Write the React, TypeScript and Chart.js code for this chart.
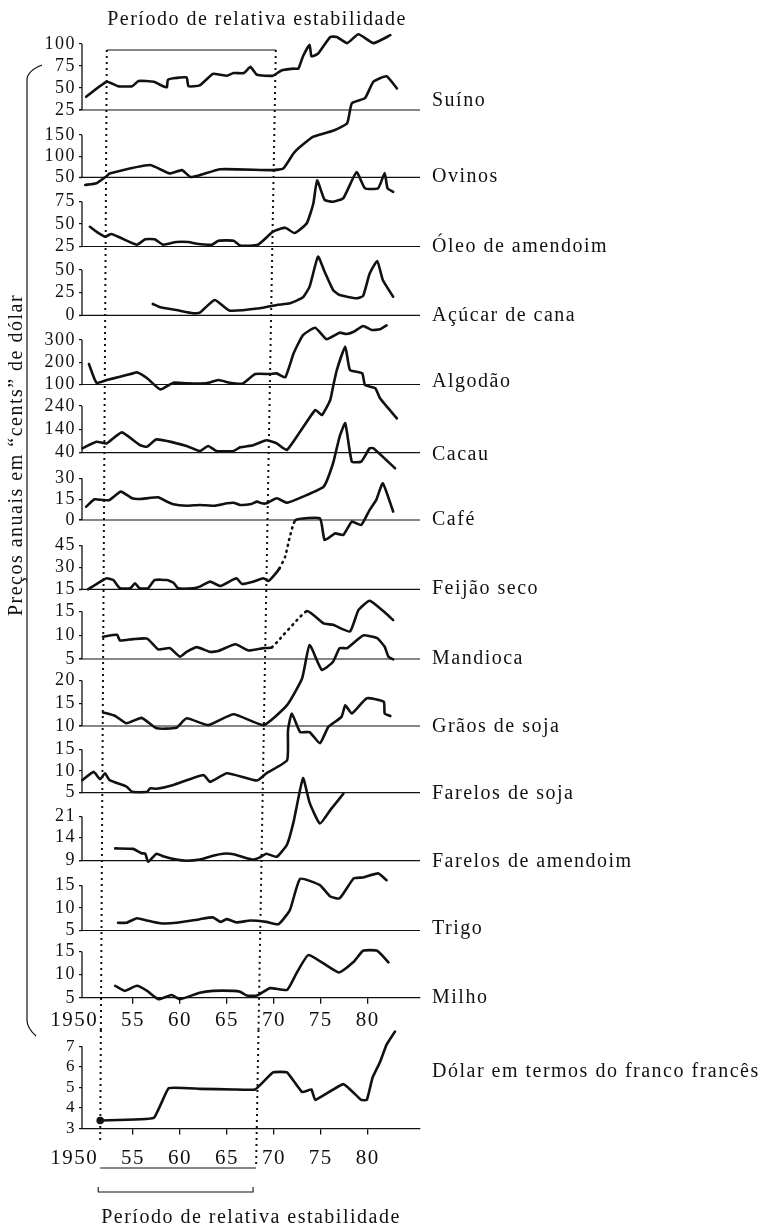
import React, { useEffect, useRef } from 'react';
import { Chart, registerables } from 'chart.js';

Chart.register(...registerables);

const FONT = "'Liberation Serif', 'Times New Roman', serif";
const INK = '#111';

// ---------------- data ----------------
const suinoYears = [1950.0, 1952.2, 1953.4, 1954.9, 1955.6, 1957.2, 1958.2, 1958.6, 1958.7, 1959.3, 1960.7, 1960.9, 1962.1, 1963.5, 1964.3, 1965.0, 1965.7, 1966.8, 1967.5, 1968.2, 1969.9, 1970.8, 1972.1, 1972.6, 1973.1, 1973.8, 1974.0, 1974.7, 1976.0, 1976.7, 1977.8, 1979.0, 1980.6, 1982.4];
const suinoValues = [40, 57, 52, 52, 58, 57, 52, 51, 59, 61, 62, 52, 53, 66, 65, 64, 67, 67, 74, 65, 64, 70, 72, 72, 86, 99, 86, 89, 108, 108, 101, 111, 101, 110];
const suinoTicks = [25, 50, 75, 100];

const ovinosYears = [1949.9, 1951.1, 1952.2, 1952.5, 1956.8, 1958.9, 1960.2, 1961.1, 1962.1, 1964.3, 1969.9, 1971.0, 1972.1, 1972.8, 1974.2, 1976.3, 1977.8, 1978.3, 1979.7, 1980.6, 1982.0, 1983.1];
const ovinosValues = [32, 36, 53, 59, 79, 59, 67, 51, 55, 69, 67, 71, 107, 122, 146, 160, 178, 225, 237, 276, 289, 260];
const ovinosTicks = [50, 100, 150];

const oleoYears = [1950.4, 1951.1, 1952.0, 1952.7, 1953.6, 1955.4, 1956.3, 1957.3, 1958.2, 1959.6, 1960.9, 1961.8, 1963.4, 1964.1, 1965.7, 1966.4, 1968.3, 1969.9, 1971.2, 1972.2, 1973.5, 1974.2, 1974.6, 1975.4, 1976.3, 1977.4, 1978.8, 1979.7, 1981.1, 1981.8, 1982.1, 1982.7];
const oleoValues = [47, 41.5, 36, 39, 35, 27, 33, 33, 27, 30, 30, 28, 27, 31.5, 31.5, 26, 27, 41.5, 46, 40, 51, 73, 99, 77, 75, 79, 108, 90, 90, 107, 90, 86];
const oleoTicks = [25, 50, 75];

const acucarYears = [1957.1, 1957.9, 1959.6, 1961.4, 1962.1, 1963.7, 1965.3, 1968.5, 1970.3, 1971.7, 1973.1, 1973.8, 1974.7, 1975.4, 1976.3, 1977.0, 1978.8, 1979.5, 1980.2, 1981.0, 1981.6, 1982.7];
const acucarValues = [12.5, 8.8, 5.8, 2.2, 2.9, 16.9, 5.1, 7.7, 11.4, 13.2, 19.9, 31.6, 64.7, 48, 28, 22.4, 18.8, 21.3, 46, 60, 39, 20.5];
const acucarTicks = [0, 25, 50];

const algodaoYears = [1950.3, 1951.1, 1952.2, 1953.6, 1955.0, 1955.4, 1956.5, 1957.9, 1959.3, 1960.7, 1962.8, 1964.1, 1965.3, 1966.7, 1968.0, 1969.6, 1970.3, 1971.2, 1972.1, 1973.1, 1974.4, 1975.6, 1977.0, 1977.7, 1978.5, 1979.5, 1980.4, 1981.3, 1982.0];
const algodaoValues = [192, 108, 120, 135, 150, 155, 128, 78, 108, 105, 105, 120, 108, 105, 147, 147, 150, 132, 240, 322, 355, 304, 333, 327, 337, 363, 345, 348, 366];
const algodaoTicks = [100, 200, 300];

const cacauYears = [1949.6, 1951.1, 1952.2, 1953.8, 1955.7, 1956.5, 1957.5, 1960.7, 1962.1, 1963.0, 1963.9, 1965.7, 1966.4, 1967.8, 1969.2, 1970.3, 1971.4, 1974.4, 1975.1, 1976.0, 1976.3, 1976.7, 1977.6, 1978.1, 1979.4, 1979.7, 1980.8, 1981.3, 1983.1];
const cacauValues = [59, 87, 80, 127, 73, 66, 97, 69, 47, 69, 47, 47, 63, 72, 93, 80, 52, 223, 201, 266, 323, 394, 494, 394, 380, 330, 316, 273, 187];
const cacauTicks = [40, 140, 240];

const cafeYears = [1950.0, 1950.9, 1951.8, 1952.5, 1953.7, 1954.9, 1955.7, 1957.7, 1958.4, 1959.3, 1960.7, 1962.1, 1963.7, 1965.0, 1965.7, 1966.4, 1967.6, 1968.2, 1968.7, 1969.2, 1970.3, 1971.4, 1973.1, 1975.3, 1976.3, 1977.0, 1977.6, 1978.3, 1979.3, 1980.2, 1980.6, 1982.9];
const cafeValues = [9.6, 14.9, 14.4, 14.4, 20.4, 15.6, 15.1, 16.3, 13.9, 11.3, 10.3, 10.8, 10.3, 12, 12.4, 10.8, 11.5, 13.2, 12, 12, 15.6, 12.4, 16.8, 24, 40.8, 60, 69.6, 42, 42, 51.6, 51.6, 37.2];
const cafeTicks = [0, 15, 30];

const feijaoYears = [1950.2, 1951.8, 1952.2, 1952.9, 1953.6, 1954.7, 1955.2, 1955.7, 1956.6, 1957.3, 1958.6, 1959.3, 1959.8, 1961.4, 1962.1, 1963.2, 1964.3, 1966.0, 1966.6, 1967.8, 1968.9, 1969.4, 1969.9, 1970.6, 1971.2, 1971.7, 1972.3, 1974.9, 1975.4, 1976.5, 1977.4, 1978.3, 1979.3, 1980.2, 1980.9, 1981.6, 1982.7];
const feijaoValues = [15, 21.3, 22.5, 21.3, 15.7, 15.7, 19, 15.7, 15.7, 21.3, 21.3, 19.5, 15.7, 15.7, 16.8, 20.2, 17.2, 22.5, 18.6, 20.2, 22.5, 20.6, 23.6, 29.3, 37.2, 50.8, 62, 63.2, 48.5, 53, 52, 61, 58.7, 69, 75.8, 87, 67.8];
const feijaoTicks = [15, 30, 45];
const feijaoDotted = [23, 26];

const mandiocaYears = [1951.8, 1953.3, 1953.6, 1955.0, 1956.5, 1957.7, 1958.9, 1960.0, 1960.7, 1961.8, 1963.2, 1964.1, 1965.9, 1967.3, 1968.9, 1969.8, 1973.5, 1975.3, 1976.3, 1978.1, 1979.0, 1980.2, 1982.0, 1982.7];
const mandiocaValues = [9.7, 10.1, 8.9, 9.2, 9.3, 7, 7.3, 5.5, 6.5, 7.5, 6.5, 6.7, 8.1, 6.8, 7.3, 7.5, 15.1, 12.5, 12.2, 10.8, 15.3, 17.3, 14.5, 13.2];
const mandiocaTicks = [5, 10, 15];
const mandiocaDotted = [15, 16];

const graosYears = [1951.8, 1953.1, 1954.3, 1955.9, 1957.5, 1959.6, 1960.7, 1963.0, 1965.7, 1968.9, 1971.4, 1973.0, 1973.8, 1975.1, 1976.3, 1977.0, 1977.8, 1979.5, 1981.0, 1981.8, 1982.2, 1982.7];
const graosValues = [13, 12.2, 10.6, 11.8, 9.5, 9.6, 11.7, 10.2, 12.6, 10.2, 14.6, 20.5, 27.9, 22.4, 24.2, 27.2, 27.2, 30, 29.4, 27.5, 25.3, 24.7];
const graosTicks = [10, 15, 20];

const farSojaYears = [1949.6, 1950.8, 1951.5, 1952.0, 1952.5, 1954.3, 1954.9, 1956.5, 1956.8, 1957.5, 1959.3, 1962.5, 1963.2, 1965.0, 1968.2, 1969.2, 1971.4, 1971.5, 1971.9, 1972.8, 1973.8, 1974.9, 1975.8, 1977.2, 1977.6, 1978.3, 1979.9, 1981.7, 1981.8, 1982.4];
const farSojaValues = [7.9, 9.8, 8.1, 9.5, 7.9, 6.4, 5.2, 5.2, 6, 5.9, 6.8, 9.1, 7.5, 9.5, 7.8, 9.5, 12.5, 19.4, 23.3, 19, 19, 16.4, 20.2, 22.5, 25.2, 23.3, 26.8, 26, 23.3, 22.7];
const farSojaTicks = [5, 10, 15];

const farAmendYears = [1953.1, 1955.0, 1955.9, 1956.3, 1956.6, 1957.5, 1958.2, 1959.6, 1960.7, 1962.1, 1963.5, 1964.6, 1965.7, 1966.8, 1967.8, 1968.5, 1969.2, 1970.3, 1971.4, 1972.1, 1973.1, 1973.8, 1974.9, 1976.1, 1977.4];
const farAmendValues = [11.4, 11.3, 10.4, 10.3, 8.8, 10.3, 9.8, 9.2, 9, 9.2, 9.9, 10.3, 10.2, 9.6, 9.2, 9.6, 10.3, 9.7, 12.3, 19.1, 44, 27.5, 18.4, 24.4, 32.6];
const farAmendTicks = [9, 14, 21];

const trigoYears = [1953.4, 1954.3, 1955.4, 1956.5, 1957.9, 1959.6, 1962.1, 1963.5, 1964.3, 1965.0, 1966.0, 1967.5, 1969.2, 1970.5, 1971.7, 1972.8, 1974.9, 1976.0, 1977.0, 1978.5, 1979.5, 1981.1, 1982.0];
const trigoValues = [6.7, 6.7, 7.7, 7.2, 6.6, 6.7, 7.5, 7.9, 6.9, 7.5, 6.8, 7.2, 6.9, 6.4, 9.5, 16.4, 15, 12.5, 12.1, 16.5, 16.7, 17.6, 16.1];
const trigoTicks = [5, 10, 15];

const milhoYears = [1953.1, 1954.1, 1955.4, 1956.5, 1957.7, 1959.1, 1960.0, 1962.1, 1963.5, 1965.7, 1966.4, 1967.1, 1968.2, 1969.6, 1971.4, 1972.4, 1973.7, 1976.9, 1978.5, 1979.5, 1981.0, 1982.2];
const milhoValues = [7.6, 6.5, 7.6, 6.5, 4.7, 5.6, 4.7, 6.1, 6.5, 6.5, 6.3, 5.5, 5.5, 7.1, 6.7, 10.3, 14.3, 10.5, 12.8, 15.2, 15.2, 12.7];
const milhoTicks = [5, 10, 15];

const dolarYears = [1951.5, 1957.2, 1958.8, 1962.1, 1965.7, 1968.0, 1969.9, 1971.4, 1973.0, 1974.0, 1974.4, 1977.4, 1979.3, 1979.9, 1980.5, 1981.3, 1982.0, 1982.9];
const dolarValues = [3.39, 3.52, 4.96, 4.93, 4.9, 4.9, 5.73, 5.73, 4.77, 4.9, 4.39, 5.16, 4.39, 4.39, 5.47, 6.23, 7.08, 7.72];
const dolarTicks = [3, 4, 5, 6, 7];

const X_TICKS = [1950, 1955, 1960, 1965, 1970, 1975, 1980];

const TITLE = 'Período de relativa estabilidade';
const Y_TITLE = 'Preços anuais em “cents” de dólar';
const DOLAR_LABEL = 'Dólar em termos do franco francês';

// ---------------- layout (not data) ----------------
const X_MIN = 1949.56;
const X_MAX = 1985.56;
const STABLE_TOP = [1952.2, 1970.2];
const STABLE_BOTTOM = [1951.5, 1968.1];
const C2_TOP = 1022;
const LINE_W = 2.6;

const PANELS = [
  { name: 'Suíno', years: suinoYears, values: suinoValues, ticks: suinoTicks, min: 25, max: 115.9, band: 80, dy: -9 },
  { name: 'Ovinos', years: ovinosYears, values: ovinosValues, ticks: ovinosTicks, min: 50, max: 209.1, band: 67.3, dy: -1 },
  { name: 'Óleo de amendoim', years: oleoYears, values: oleoValues, ticks: oleoTicks, min: 25, max: 102.2, band: 69.2, dy: 0 },
  { name: 'Açúcar de cana', years: acucarYears, values: acucarValues, ticks: acucarTicks, min: 0, max: 75.9, band: 68.8, dy: 0 },
  { name: 'Algodão', years: algodaoYears, values: algodaoValues, ticks: algodaoTicks, min: 100, max: 411, band: 69.2, dy: -3 },
  { name: 'Cacau', years: cacauYears, values: cacauValues, ticks: cacauTicks, min: 40, max: 332, band: 68.2, dy: 2 },
  { name: 'Café', years: cafeYears, values: cafeValues, ticks: cafeTicks, min: 0, max: 48.4, band: 67.3, dy: 0 },
  { name: 'Feijão seco', years: feijaoYears, values: feijaoValues, ticks: feijaoTicks, min: 15, max: 62.1, band: 69.3, dy: -1, dotted: feijaoDotted },
  { name: 'Mandioca', years: mandiocaYears, values: mandiocaValues, ticks: mandiocaTicks, min: 5, max: 19.7, band: 69.7, dy: 0, dotted: mandiocaDotted },
  { name: 'Grãos de soja', years: graosYears, values: graosValues, ticks: graosTicks, min: 10, max: 24.8, band: 67, dy: 1 },
  { name: 'Farelos de soja', years: farSojaYears, values: farSojaValues, ticks: farSojaTicks, min: 5, max: 20.4, band: 66.7, dy: 1 },
  { name: 'Farelos de amendoim', years: farAmendYears, values: farAmendValues, ticks: farAmendTicks, min: 9, max: 33.3, band: 68, dy: 1, log: true },
  { name: 'Trigo', years: trigoYears, values: trigoValues, ticks: trigoTicks, min: 5, max: 20.4, band: 69.8, dy: -2 },
  { name: 'Milho', years: milhoYears, values: milhoValues, ticks: milhoTicks, min: 5, max: 19.6, band: 67.3, dy: 0 },
];

const xLabel = (v: number) => (v === 1950 ? '1950\u2007\u2007' : String(v - 1900));

function line(ctx: CanvasRenderingContext2D, x1: number, y1: number, x2: number, y2: number, w = 1.2) {
  ctx.beginPath();
  ctx.lineWidth = w;
  ctx.moveTo(x1, y1);
  ctx.lineTo(x2, y2);
  ctx.stroke();
}

function stableYear(idx: number, pageY: number) {
  const yTop = 50;
  const yBot = idx === 0 ? 1140 : 1168;
  const t = (pageY - yTop) / (yBot - yTop);
  return STABLE_TOP[idx] + t * (STABLE_BOTTOM[idx] - STABLE_TOP[idx]);
}

function drawDotted(ctx: CanvasRenderingContext2D, xs: any, fromPage: number, toPageArr: number[], offset: number) {
  ctx.save();
  ctx.setLineDash([2, 4]);
  ctx.lineWidth = 2;
  for (let i = 0; i < 2; i++) {
    const to = toPageArr[i];
    if (to <= fromPage) continue;
    ctx.beginPath();
    ctx.moveTo(xs.getPixelForValue(stableYear(i, fromPage)), fromPage - offset);
    ctx.lineTo(xs.getPixelForValue(stableYear(i, to)), to - offset);
    ctx.stroke();
  }
  ctx.restore();
}

const xAxis = (height: number, padding: number) => ({
  type: 'linear',
  position: 'bottom',
  min: X_MIN,
  max: X_MAX,
  afterBuildTicks: (s: any) => { s.ticks = X_TICKS.map((v) => ({ value: v })); },
  afterFit: (s: any) => { s.height = height; },
  ticks: { callback: (v: any) => xLabel(v), font: { family: FONT, size: 21 }, color: INK, padding, maxRotation: 0, minRotation: 0, autoSkip: false },
  grid: {
    display: true, drawOnChartArea: false, drawTicks: true, tickLength: 6, lineWidth: 1.3,
    color: (c: any) => (c.tick && c.tick.value === 1950 ? 'rgba(0,0,0,0)' : INK),
  },
  border: { display: true, color: INK, width: 1.3 },
});

const yAxisBase = (ticks: number[]) => ({
  position: 'left',
  afterBuildTicks: (s: any) => { s.ticks = ticks.map((v) => ({ value: v })); },
  afterFit: (s: any) => { s.width = 40; },
  ticks: { font: { family: FONT, size: 18 }, color: INK, padding: 3, autoSkip: false, callback: (v: any) => String(v) },
  grid: { display: true, drawOnChartArea: false, drawTicks: true, tickLength: 3, color: INK, lineWidth: 1.2 },
  border: { display: false },
});

function makeConfig1(): any {
  const scales: any = { x: xAxis(42.2, 4) };
  PANELS.forEach((p, i) => {
    scales['y' + i] = {
      ...yAxisBase(p.ticks),
      type: p.log ? 'logarithmic' : 'linear',
      stack: 'panels',
      stackWeight: p.band,
      weight: PANELS.length - i,
      min: p.min,
      max: p.max,
    };
  });
  const datasets = PANELS.map((p, i) => ({
    type: 'line',
    label: p.name,
    data: p.years.map((x, j) => ({ x, y: p.values[j] })),
    xAxisID: 'x',
    yAxisID: 'y' + i,
    borderColor: INK,
    borderWidth: LINE_W,
    borderCapStyle: 'round',
    borderJoinStyle: 'round',
    pointRadius: 0,
    tension: 0.15,
    fill: false,
    clip: false,
    segment: {
      borderDash: (c: any) => (p.dotted && c.p0DataIndex >= p.dotted[0] && c.p0DataIndex < p.dotted[1] ? [1, 5] : undefined),
    },
  }));
  const decor = {
    id: 'decor1',
    beforeDraw(chart: any) { chart.ctx.letterSpacing = '1.5px'; },
    afterDraw(chart: any) {
      const ctx: CanvasRenderingContext2D = chart.ctx;
      const xs = chart.scales.x;
      const { left, right } = chart.chartArea;
      ctx.save();
      ctx.strokeStyle = INK;
      ctx.fillStyle = INK;
      ctx.font = `20px ${FONT}`;
      ctx.textBaseline = 'middle';
      ctx.textAlign = 'left';
      PANELS.forEach((p, i) => {
        const ys = chart.scales['y' + i];
        const yb = ys.getPixelForValue(p.min);
        const yt = ys.getPixelForValue(p.ticks[p.ticks.length - 1]);
        if (i < PANELS.length - 1) line(ctx, left - 3, yb, right, yb, 1.2);
        line(ctx, left, yb, left, yt, 1.3);
        ctx.fillText(p.name, right + 12, yb + p.dy);
      });
      // title & top bracket line
      ctx.textAlign = 'center';
      ctx.fillText(TITLE, 257, 20);
      line(ctx, xs.getPixelForValue(STABLE_TOP[0]), 50, xs.getPixelForValue(STABLE_TOP[1]), 50, 1.1);
      drawDotted(ctx, xs, 50, [1030, 1030], 0);
      // y title
      ctx.save();
      ctx.translate(17, 455);
      ctx.rotate(-Math.PI / 2);
      ctx.fillText(Y_TITLE, 0, 0);
      ctx.restore();
      // left brace
      ctx.beginPath();
      ctx.lineWidth = 1.2;
      ctx.moveTo(42, 65);
      ctx.quadraticCurveTo(27, 71, 27, 80);
      ctx.lineTo(27, 1020);
      ctx.quadraticCurveTo(27, 1028, 36, 1036);
      ctx.stroke();
      ctx.restore();
    },
  };
  return {
    type: 'line',
    data: { datasets },
    options: {
      responsive: false,
      animation: false,
      devicePixelRatio: 1,
      parsing: true,
      layout: { padding: { top: 30, left: 42, right: 340, bottom: 0 } },
      plugins: { legend: { display: false }, tooltip: { enabled: false }, title: { display: false } },
      scales,
    },
    plugins: [decor],
  };
}

function makeConfig2(): any {
  const yMin = 3;
  const yMax = 7.54;
  const decor = {
    id: 'decor2',
    beforeDraw(chart: any) { chart.ctx.letterSpacing = '1.5px'; },
    afterDraw(chart: any) {
      const ctx: CanvasRenderingContext2D = chart.ctx;
      const xs = chart.scales.x;
      const ys = chart.scales.y;
      const { left, right } = chart.chartArea;
      ctx.save();
      ctx.strokeStyle = INK;
      ctx.fillStyle = INK;
      line(ctx, left, ys.getPixelForValue(yMin), left, ys.getPixelForValue(dolarTicks[dolarTicks.length - 1]), 1.3);
      drawDotted(ctx, xs, 1030, [1140, 1168], C2_TOP);
      // line under the labels
      line(ctx, xs.getPixelForValue(STABLE_BOTTOM[0]), 1168 - C2_TOP, xs.getPixelForValue(STABLE_BOTTOM[1]), 1168 - C2_TOP, 1.1);
      // bracket
      const bx1 = xs.getPixelForValue(STABLE_BOTTOM[0]) - 2;
      const bx2 = xs.getPixelForValue(STABLE_BOTTOM[1]) - 3;
      const by = 1192 - C2_TOP;
      ctx.beginPath();
      ctx.lineWidth = 1.1;
      ctx.moveTo(bx1, by - 5);
      ctx.lineTo(bx1, by);
      ctx.lineTo(bx2, by);
      ctx.lineTo(bx2, by - 5);
      ctx.stroke();
      ctx.font = `20px ${FONT}`;
      ctx.textBaseline = 'middle';
      ctx.textAlign = 'center';
      ctx.fillText(TITLE, 251, 1218 - C2_TOP);
      ctx.textAlign = 'left';
      ctx.fillText(DOLAR_LABEL, right + 12, 1072 - C2_TOP);
      ctx.restore();
    },
  };
  return {
    type: 'line',
    data: {
      datasets: [{
        type: 'line',
        label: DOLAR_LABEL,
        data: dolarYears.map((x, j) => ({ x, y: dolarValues[j] })),
        xAxisID: 'x',
        yAxisID: 'y',
        borderColor: INK,
        borderWidth: LINE_W,
        borderCapStyle: 'round',
        borderJoinStyle: 'round',
        pointRadius: (c: any) => (c.dataIndex === 0 ? 2.5 : 0),
        pointBackgroundColor: INK,
        pointBorderColor: INK,
        tension: 0.1,
        fill: false,
        clip: false,
      }],
    },
    options: {
      responsive: false,
      animation: false,
      devicePixelRatio: 1,
      layout: { padding: { top: 8, left: 42, right: 340, bottom: 0 } },
      plugins: { legend: { display: false }, tooltip: { enabled: false }, title: { display: false } },
      scales: {
        x: xAxis(99.5, 11),
        y: { ...yAxisBase(dolarTicks), type: 'linear', min: yMin, max: yMax, ticks: { font: { family: FONT, size: 17 }, color: INK, padding: 3, autoSkip: false, callback: (v: any) => String(v) } },
      },
    },
    plugins: [decor],
  };
}

export default function App() {
  const ref1 = useRef<HTMLCanvasElement>(null);
  const ref2 = useRef<HTMLCanvasElement>(null);
  useEffect(() => {
    const c1 = new Chart(ref1.current as HTMLCanvasElement, makeConfig1());
    const c2 = new Chart(ref2.current as HTMLCanvasElement, makeConfig2());
    return () => {
      c1.destroy();
      c2.destroy();
    };
  }, []);
  return (
    <div style={{ position: 'absolute', left: 0, top: 0, width: 760, height: 1228, background: '#fff', overflow: 'hidden' }}>
      <canvas ref={ref1} width={760} height={1040} style={{ position: 'absolute', left: 0, top: 0, width: 760, height: 1040 }} />
      <canvas ref={ref2} width={760} height={206} style={{ position: 'absolute', left: 0, top: C2_TOP, width: 760, height: 206 }} />
    </div>
  );
}
